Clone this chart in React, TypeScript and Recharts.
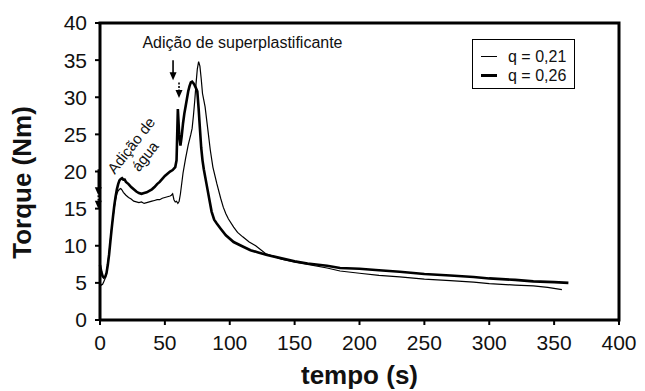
import React from 'react'
import {
  LineChart,
  Line,
  XAxis,
  YAxis,
  Legend,
  ReferenceLine,
  ReferenceDot,
} from 'recharts'

// q = 0,21 (linha fina)
const TIME_THIN = [
  0, 1, 2, 3, 4, 5, 6, 7, 8, 9, 10, 11, 12, 13, 14, 15, 16, 17, 18, 20, 22, 24, 26, 28, 30, 32, 34, 36, 38, 40,
  42, 44, 46, 48, 50, 52, 54, 55, 56, 57, 58, 59, 60, 61, 62, 64, 66, 68, 70, 71, 72, 73, 74, 75, 76, 77, 78,
  79, 80, 81, 83, 85, 87, 90, 93, 95, 97, 99, 103, 106, 110, 115, 120, 128, 135, 140, 150, 160, 175, 185, 200,
  215, 231, 250, 270, 288, 300, 320, 334, 345, 356,
]
const TORQUE_THIN = [
  5.0, 4.7, 4.8, 5.2, 5.6, 6.3, 7.6, 9.0, 10.8, 12.4, 13.8, 15.1, 16.2, 17.0, 17.4, 17.6, 17.7, 17.5, 17.2, 16.8,
  16.5, 16.3, 16.0, 15.9, 15.8, 15.9, 15.7, 15.8, 15.9, 16.0, 16.1, 16.2, 16.2, 16.4, 16.5, 16.6, 16.7, 16.8,
  17.0, 16.2, 15.9, 16.0, 15.7, 16.0, 17.0, 19.8, 21.8, 23.6, 25.0, 25.8, 27.5, 29.5, 31.8, 33.8, 34.8, 34.2,
  32.5, 30.5, 29.6, 28.7, 25.8, 22.9, 20.6, 18.4, 16.4, 15.2, 14.3, 13.6, 12.5, 11.8, 11.2, 10.5, 10.0, 8.9,
  8.5, 8.2, 7.8, 7.5, 7.0, 6.6, 6.3, 6.0, 5.8, 5.5, 5.3, 5.1, 4.9, 4.7, 4.6, 4.4, 4.1,
]

// q = 0,26 (linha grossa)
const TIME_THICK = [
  0, 1, 2, 3, 4, 5, 6, 7, 8, 9, 10, 11, 12, 13, 14, 15, 16, 17, 18, 19, 20, 22, 24, 26, 28, 30, 32, 34, 36, 38,
  40, 42, 44, 46, 48, 50, 52, 54, 56, 58, 59, 60, 61, 62, 63, 64, 65, 66, 67, 68, 69, 70, 71, 72, 73, 74, 75,
  76, 77, 78, 79, 80, 82, 84, 86, 88, 90, 93, 97, 103, 110, 116, 122, 128, 140, 150, 160, 175, 185, 200, 215,
  231, 250, 270, 288, 300, 320, 334, 350, 361,
]
const TORQUE_THICK = [
  7.4, 6.5, 5.9, 5.7, 5.8, 6.3, 7.4, 8.8, 10.6, 12.3, 13.9, 15.4, 16.6, 17.6, 18.3, 18.8, 19.0, 19.1, 18.9, 18.9,
  18.6, 18.3, 17.9, 17.6, 17.3, 17.1, 17.0, 17.1, 17.2, 17.4, 17.6, 17.9, 18.3, 18.6, 19.0, 19.4, 19.7, 20.0,
  20.2, 20.6, 21.5, 28.4, 25.0, 23.5, 24.8, 26.5, 27.8, 28.8, 29.8, 30.8, 31.5, 32.0, 32.1, 31.9, 31.6, 31.2,
  30.8, 28.5, 25.8, 23.2, 21.5, 20.3, 18.4, 16.5, 14.6, 13.5, 13.0, 12.3, 11.4, 10.5, 9.9, 9.4, 9.1, 8.8, 8.3,
  7.9, 7.6, 7.3, 7.0, 6.9, 6.7, 6.5, 6.2, 6.0, 5.8, 5.6, 5.4, 5.2, 5.1, 5.0,
]

const X_TICKS = [0, 50, 100, 150, 200, 250, 300, 350, 400]
const Y_TICKS = [0, 5, 10, 15, 20, 25, 30, 35, 40]

const SERIES_NAMES = ['q = 0,21', 'q = 0,26']
const SERIES_WIDTHS = [1.2, 2.6]

const FONT = '"Liberation Sans", Arial, sans-serif'
const WIDTH = 645
const MARGIN = { top: 23, right: 26, bottom: 0, left: 0 }

const thinData = TIME_THIN.map((t, i) => ({ t, v: TORQUE_THIN[i] }))
const thickData = TIME_THICK.map((t, i) => ({ t, v: TORQUE_THICK[i] }))

const AXIS_LINE = { stroke: '#000', strokeWidth: 3 }
const TICK_LINE = { stroke: '#000', strokeWidth: 2 }

function Arrow(props: any) {
  const { x1, y1, x2, y2, dashed } = props
  return (
    <g>
      <line
        x1={x1}
        y1={y1}
        x2={x2}
        y2={y2 - 6}
        stroke="#000"
        strokeWidth={1.6}
        strokeDasharray={dashed ? '2 1.5' : undefined}
      />
      <path d={`M${x2 - 3.5},${y2 - 8} L${x2},${y2} L${x2 + 3.5},${y2 - 8} Z`} fill="#000" />
    </g>
  )
}

// título do eixo Y + moldura superior/direita (desenhada a partir da caixa do eixo)
function YLabel({ viewBox }: any) {
  const cx = 31
  const cy = viewBox.y + viewBox.height / 2 + 11
  const left = viewBox.x + viewBox.width
  const right = WIDTH - MARGIN.right
  const top = viewBox.y
  const bottom = viewBox.y + viewBox.height
  return (
    <g>
      <path
        d={`M${left},${top} L${right},${top} L${right},${bottom}`}
        fill="none"
        stroke="#000"
        strokeWidth={3}
        strokeLinecap="square"
      />
      <text
        x={cx}
        y={cy}
        textAnchor="middle"
        transform={`rotate(-90, ${cx}, ${cy})`}
        fontFamily={FONT}
        fontSize={26}
        fontWeight="bold"
        fill="#111"
      >
        Torque (Nm)
      </text>
    </g>
  )
}

function LegendBox() {
  return (
    <div
      style={{
        border: '1px solid #000',
        background: '#fff',
        width: 103,
        boxSizing: 'border-box',
        padding: '7px 0 3px 8px',
        fontFamily: FONT,
        fontSize: 16,
        lineHeight: '19px',
        color: '#111',
      }}
    >
      {SERIES_NAMES.map((name, i) => (
        <div key={name} style={{ display: 'flex', alignItems: 'center', whiteSpace: 'nowrap' }}>
          <span
            style={{
              display: 'inline-block',
              width: 16,
              borderTop: `${SERIES_WIDTHS[i] > 2 ? 3 : 1}px solid #000`,
              marginRight: 11,
            }}
          />
          {name}
        </div>
      ))}
    </div>
  )
}

export default function App() {
  return (
    <div style={{ position: 'absolute', left: 0, top: 0, background: '#fff' }}>
      <LineChart width={WIDTH} height={391} margin={MARGIN}>
        <XAxis
          dataKey="t"
          type="number"
          domain={[0, 400]}
          ticks={X_TICKS}
          height={71}
          axisLine={AXIS_LINE}
          tickLine={TICK_LINE}
          tickSize={5}
          tickMargin={10}
          tick={{ fontSize: 21, fill: '#111', fontFamily: FONT }}
          label={{
            content: ({ viewBox }: any) => (
              <text
                x={viewBox.x + viewBox.width / 2}
                y={384}
                textAnchor="middle"
                fontFamily={FONT}
                fontSize={26}
                fontWeight="bold"
                fill="#111"
              >
                tempo (s)
              </text>
            ),
          }}
        />
        <YAxis
          type="number"
          domain={[0, 40]}
          ticks={Y_TICKS}
          width={100}
          axisLine={AXIS_LINE}
          tickLine={TICK_LINE}
          tickSize={5}
          tickMargin={8}
          tick={{ fontSize: 21, fill: '#111', fontFamily: FONT }}
          label={{ content: (p: any) => <YLabel {...p} /> }}
        />
        <Legend
          layout="horizontal"
          verticalAlign="middle"
          align="center"
          wrapperStyle={{ position: 'absolute', left: 472, top: 39, width: 103, height: 50 }}
          content={() => <LegendBox />}
        />
        <Line
          data={thinData}
          dataKey="v"
          name={SERIES_NAMES[0]}
          type="linear"
          stroke="#000"
          strokeWidth={SERIES_WIDTHS[0]}
          dot={false}
          isAnimationActive={false}
        />
        <Line
          data={thickData}
          dataKey="v"
          name={SERIES_NAMES[1]}
          type="linear"
          stroke="#000"
          strokeWidth={SERIES_WIDTHS[1]}
          dot={false}
          isAnimationActive={false}
        />
        {/* setas de adição de água */}
        <ReferenceLine
          ifOverflow="visible"
          segment={[{ x: -1.3, y: 20.3 }, { x: -1.3, y: 16.8 }]}
          shape={(p: any) => <Arrow {...p} />}
        />
        <ReferenceLine
          ifOverflow="visible"
          segment={[{ x: -1.3, y: 16.8 }, { x: -1.3, y: 15.0 }]}
          shape={(p: any) => <Arrow {...p} dashed />}
        />
        {/* setas de adição de superplastificante */}
        <ReferenceLine
          ifOverflow="visible"
          segment={[{ x: 56.3, y: 35.0 }, { x: 56.3, y: 32.3 }]}
          shape={(p: any) => <Arrow {...p} />}
        />
        <ReferenceLine
          ifOverflow="visible"
          segment={[{ x: 60.9, y: 32.0 }, { x: 60.9, y: 29.9 }]}
          shape={(p: any) => <Arrow {...p} dashed />}
        />
        <ReferenceDot
          x={109.8}
          y={36.6}
          ifOverflow="visible"
          shape={(p: any) => (
            <text x={p.cx} y={p.cy} textAnchor="middle" fontFamily={FONT} fontSize={16} fill="#111">
              Adição de superplastificante
            </text>
          )}
        />
        <ReferenceDot
          x={29.3}
          y={22.8}
          ifOverflow="visible"
          shape={(p: any) => (
            <text
              x={p.cx}
              y={p.cy}
              textAnchor="middle"
              fontFamily={FONT}
              fontSize={15}
              fill="#111"
              transform={`rotate(-52, ${p.cx}, ${p.cy})`}
            >
              <tspan x={p.cx} dy={-3.3}>
                Adição de
              </tspan>
              <tspan x={p.cx} dy={17.5}>
                água
              </tspan>
            </text>
          )}
        />
      </LineChart>
    </div>
  )
}
